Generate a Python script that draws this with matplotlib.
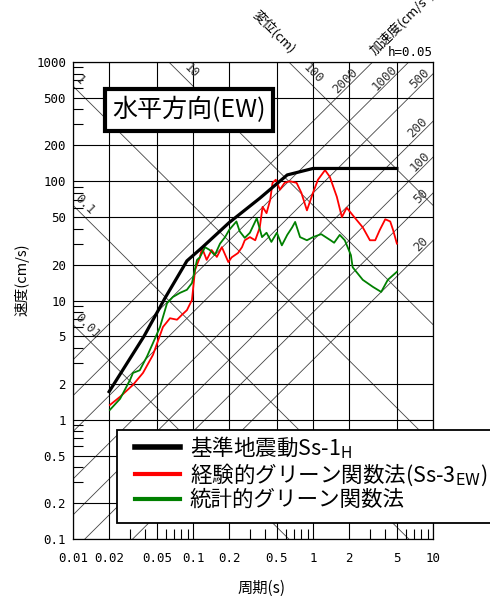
import numpy as np
import matplotlib
matplotlib.use("Agg")
import matplotlib.pyplot as plt
from matplotlib.patches import Rectangle
from matplotlib.ticker import NullFormatter

plt.rcParams['font.family'] = ['Noto Sans CJK JP', 'DejaVu Sans']
plt.rcParams['mathtext.fontset'] = 'dejavusans'

# --- data (period in s, velocity in cm/s) ---
T_ss1 = [0.02, 0.039, 0.0585, 0.089, 0.12, 0.2, 0.36, 0.61, 1.0, 5.0]
V_ss1 = [1.72, 5.0, 10.5, 21.5, 28.0, 45.0, 72.0, 113.0, 128.0, 128.0]

T_emp = [0.0203, 0.0247, 0.0316, 0.0383, 0.0464, 0.0562, 0.0643, 0.0736, 0.081,
         0.089, 0.098, 0.104, 0.114, 0.119, 0.13, 0.143, 0.158, 0.174, 0.197,
         0.21, 0.237, 0.256, 0.27, 0.298, 0.33, 0.36, 0.38, 0.41, 0.44, 0.46,
         0.49, 0.53, 0.58, 0.64, 0.73, 0.8, 0.89, 1.0, 1.1, 1.26, 1.38, 1.58,
         1.74, 1.91, 2.14, 2.6, 2.98, 3.3, 3.6, 4.0, 4.4, 4.65, 5.0]
V_emp = [1.33, 1.56, 1.96, 2.47, 3.5, 6.0, 7.1, 6.9, 7.6,
         8.3, 10.1, 18.0, 23.0, 27.6, 21.9, 26.5, 23.2, 28.0, 21.0,
         23.0, 25.0, 28.0, 32.0, 34.0, 32.0, 41.0, 61.0, 54.0, 70.0, 97.0,
         103.0, 85.0, 97.0, 100.0, 97.0, 80.0, 57.0, 80.0, 103.0, 124.0, 109.0, 74.0,
         50.0, 60.0, 52.0, 41.0, 32.0, 32.0, 39.0, 48.0, 46.0, 39.0, 30.0]

T_sta = [0.0203, 0.0247, 0.0299, 0.0316, 0.036, 0.0414, 0.0464, 0.0531, 0.0608,
         0.068, 0.078, 0.089, 0.098, 0.108, 0.114, 0.126, 0.138, 0.152, 0.168,
         0.185, 0.2, 0.23, 0.245, 0.27, 0.298, 0.34, 0.376, 0.41, 0.45, 0.5,
         0.55, 0.61, 0.67, 0.71, 0.78, 0.89, 1.0, 1.17, 1.4, 1.5, 1.67, 1.84,
         2.07, 2.14, 2.6, 3.16, 3.7, 4.2, 5.0]
V_sta = [1.21, 1.5, 2.16, 2.47, 2.6, 3.4, 4.4, 6.0, 9.5,
         10.7, 11.6, 12.3, 14.0, 21.9, 23.0, 28.0, 26.5, 24.0, 30.0,
         34.0, 39.0, 46.0, 38.0, 33.5, 37.0, 49.0, 34.0, 37.0, 31.0, 37.0,
         29.0, 35.5, 41.0, 45.6, 34.0, 32.0, 34.0, 36.0, 32.0, 30.5, 35.5, 32.0,
         24.0, 19.0, 14.9, 13.0, 11.8, 14.9, 17.4]

labels = ["基準地震動Ss-1$_\\mathrm{H}$",
          "経験的グリーン関数法(Ss-3$_\\mathrm{EW}$)",
          "統計的グリーン関数法"]

x_ticks = [0.01, 0.02, 0.05, 0.1, 0.2, 0.5, 1, 2, 5, 10]
x_tick_labels = ["0.01", "0.02", "0.05", "0.1", "0.2", "0.5", "1", "2", "5", "10"]
y_ticks = [0.1, 0.2, 0.5, 1, 2, 5, 10, 20, 50, 100, 200, 500, 1000]
y_tick_labels = ["0.1", "0.2", "0.5", "1", "2", "5", "10", "20", "50", "100", "200", "500", "1000"]

# tripartite lines: displacement (cm) and acceleration (cm/s2)
disp_lines = [0.01, 0.1, 1, 10, 100]
disp_label_T = [0.0131, 0.0126, 0.0114, 0.096, 1.0]
disp_names = ["0.01", "0.1", "1", "10", "100"]
acc_lines = [20, 50, 100, 200, 500, 1000, 2000]
acc_label_T = [8.0, 8.0, 7.8, 7.5, 7.8, 3.98, 1.85]
acc_names = ["20", "50", "100", "200", "500", "1000", "2000"]

mono = "DejaVu Sans Mono"

fig = plt.figure(figsize=(4.9, 5.96), dpi=100)
ax = fig.add_axes([73/490, 57/596, 360/490, 477/596])
ax.set_xscale("log")
ax.set_yscale("log")
ax.set_xlim(0.01, 10)
ax.set_ylim(0.1, 1000)

# diagonal grid
tt = np.logspace(-2, 1, 60)
for d in disp_lines:
    ax.plot(tt, 2*np.pi*d/tt, color="#444444", lw=0.6, zorder=1)
for a in acc_lines:
    ax.plot(tt, a*tt/(2*np.pi), color="#444444", lw=0.6, zorder=1)

for d, t, s in zip(disp_lines, disp_label_T, disp_names):
    ax.text(t, 1.28*2*np.pi*d/t, s, rotation=-45, ha="center", va="center",
            fontsize=9, family=mono, color="#333333")
for a, t, s in zip(acc_lines, acc_label_T, acc_names):
    ax.text(t, 1.17*a*t/(2*np.pi), s, rotation=45, ha="center", va="center",
            fontsize=9, family=mono, color="#333333")

ax.set_xticks(x_ticks, labels=x_tick_labels)
ax.set_yticks(y_ticks, labels=y_tick_labels)
x_minor = [k*10.0**e for e in range(-2, 1) for k in (3, 4, 6, 7, 8, 9)]
y_minor = [k*10.0**e for e in range(-1, 3) for k in (3, 4, 6, 7, 8, 9)]
ax.set_xticks(x_minor, minor=True)
ax.set_yticks(y_minor, minor=True)
ax.xaxis.set_minor_formatter(NullFormatter())
ax.yaxis.set_minor_formatter(NullFormatter())
ax.tick_params(which="major", length=0, labelsize=9)
ax.tick_params(axis="x", which="major", pad=9)
ax.tick_params(axis="y", which="major", pad=5)
ax.tick_params(which="minor", direction="in", length=7, width=0.8)
for lab in ax.get_xticklabels() + ax.get_yticklabels():
    lab.set_family(mono)
ax.grid(True, which="major", color="black", lw=0.8)
for sp in ax.spines.values():
    sp.set_linewidth(0.9)

# spectra
l1, = ax.plot(T_ss1, V_ss1, color="black", lw=2.3, zorder=4)
l2, = ax.plot(T_emp, V_emp, color="#ff0000", lw=1.3, zorder=3)
l3, = ax.plot(T_sta, V_sta, color="#008000", lw=1.3, zorder=3)

# legend: frame drawn by hand, running off the right edge like the original
frame = Rectangle((117/490, 1-523/596), 0.8, 93/596, transform=fig.transFigure,
                  fc="white", ec="black", lw=1.3, zorder=5)
fig.add_artist(frame)
leg = fig.legend([l1, l2, l3], labels, loc="upper left",
                 bbox_to_anchor=(135/490, 1-434/596), frameon=False,
                 borderpad=0, borderaxespad=0, fontsize=15.5,
                 handlelength=2.1, handletextpad=0.45, labelspacing=0.05)
leg.set_zorder(6)
lw_leg = [4, 3, 3]
for h, w in zip(leg.get_lines(), lw_leg):
    h.set_linewidth(w)

# title box
fig.text(189/490, 1-110/596, "水平方向(EW)", ha="center", va="center", fontsize=18,
         bbox=dict(boxstyle="square,pad=0.3", fc="white", ec="black", lw=3), zorder=10)

# axis titles
fig.text(22/490, 1-280/596, "速度(cm/s)", rotation=90, ha="center", va="center", fontsize=10.5)
fig.text(262/490, 1-588/596, "周期(s)", ha="center", va="center", fontsize=11)
fig.text(274/490, 1-32/596, "変位(cm)", rotation=-45, ha="center", va="center", fontsize=9.5)
fig.text(377/490, 1-57/596, "加速度(cm/s²)", rotation=45, ha="left", va="bottom",
         rotation_mode="anchor", fontsize=9.5)
fig.text(433/490, 1-52/596, "h=0.05", ha="right", va="center", fontsize=9, family=mono)

fig.savefig("out.png", dpi=100)
